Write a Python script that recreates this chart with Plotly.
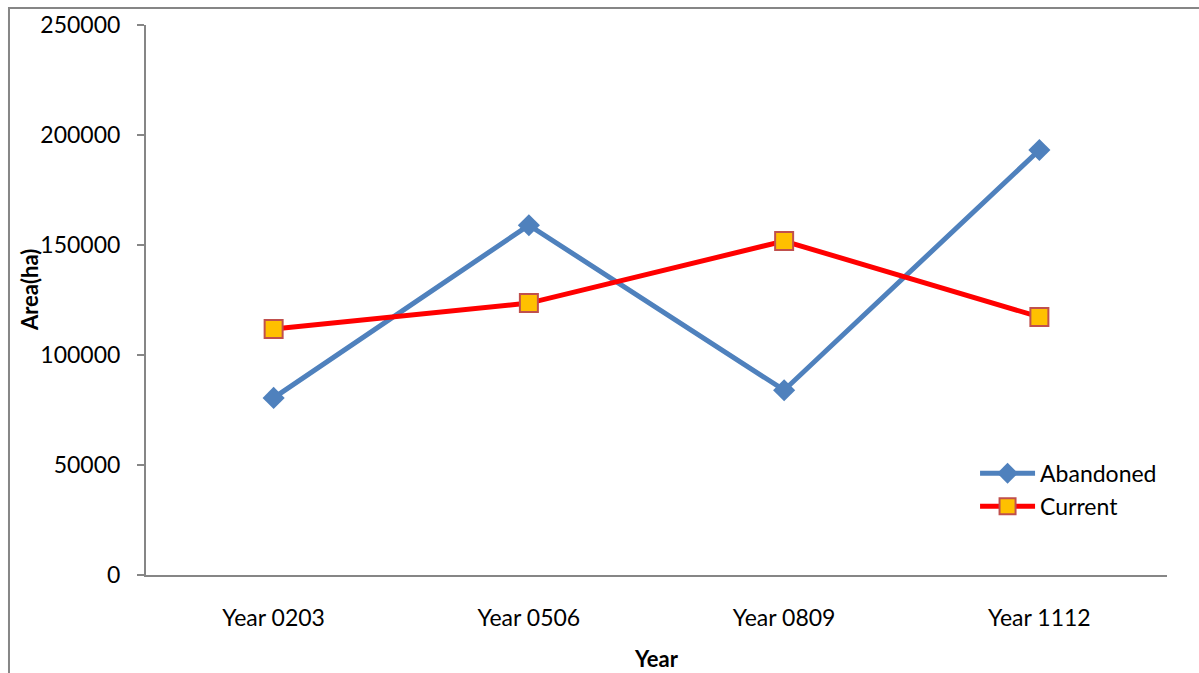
import plotly.graph_objects as go

years = ["Year 0203", "Year 0506", "Year 0809", "Year 1112"]
abandoned = [80500, 159000, 84000, 193200]
current = [111800, 123600, 151800, 117300]

FONT = "Lato"
AXIS_GRAY = "#868686"

fig = go.Figure()
fig.add_trace(go.Scatter(
    x=years, y=abandoned, name="Abandoned", mode="lines+markers",
    line=dict(color="#4f81bd", width=5),
    marker=dict(symbol="diamond", size=17, color="#4f81bd"),
))
fig.add_trace(go.Scatter(
    x=years, y=current, name="Current", mode="lines+markers",
    line=dict(color="#ff0000", width=5),
    marker=dict(symbol="square", size=18, color="#ffc000",
                line=dict(color="#c0504d", width=2)),
))

fig.update_layout(
    width=1199, height=673,
    margin=dict(l=146, r=32, t=25, b=98),
    paper_bgcolor="white", plot_bgcolor="white",
    font=dict(family=FONT, size=23, color="black"),
    showlegend=True,
    legend=dict(x=0.812, y=0.224, xanchor="left", yanchor="top",
                bgcolor="rgba(0,0,0,0)", font=dict(size=23),
                itemwidth=55, tracegroupgap=0),
    xaxis=dict(
        type="category", showgrid=False, zeroline=False,
        showline=True, linecolor=AXIS_GRAY, linewidth=2,
        ticks="", ticklabelstandoff=21, automargin=False,
        range=[-0.5, 3.5],
    ),
    yaxis=dict(
        range=[0, 250000], dtick=50000, showgrid=False, zeroline=False,
        showline=True, linecolor=AXIS_GRAY, linewidth=2,
        ticks="outside", ticklen=7, tickcolor=AXIS_GRAY, tickwidth=2,
        ticklabelstandoff=12, tickformat="d", automargin=False,
    ),
    annotations=[
        dict(text="<b>Area(ha)</b>", textangle=-90, xref="paper", yref="paper",
             x=-0.1146, y=0.518, xanchor="center", yanchor="middle",
             showarrow=False, font=dict(size=22)),
        dict(text="<b>Year</b>", xref="paper", yref="paper",
             x=0.5, y=-0.151, xanchor="center", yanchor="middle",
             showarrow=False, font=dict(size=22)),
    ],
    shapes=[
        dict(type="rect", xref="paper", yref="paper",
             x0=-0.1342, x1=1.2, y0=-0.3, y1=1.0309,
             line=dict(color=AXIS_GRAY, width=2), layer="below"),
    ],
)

fig.write_html("out.html")
